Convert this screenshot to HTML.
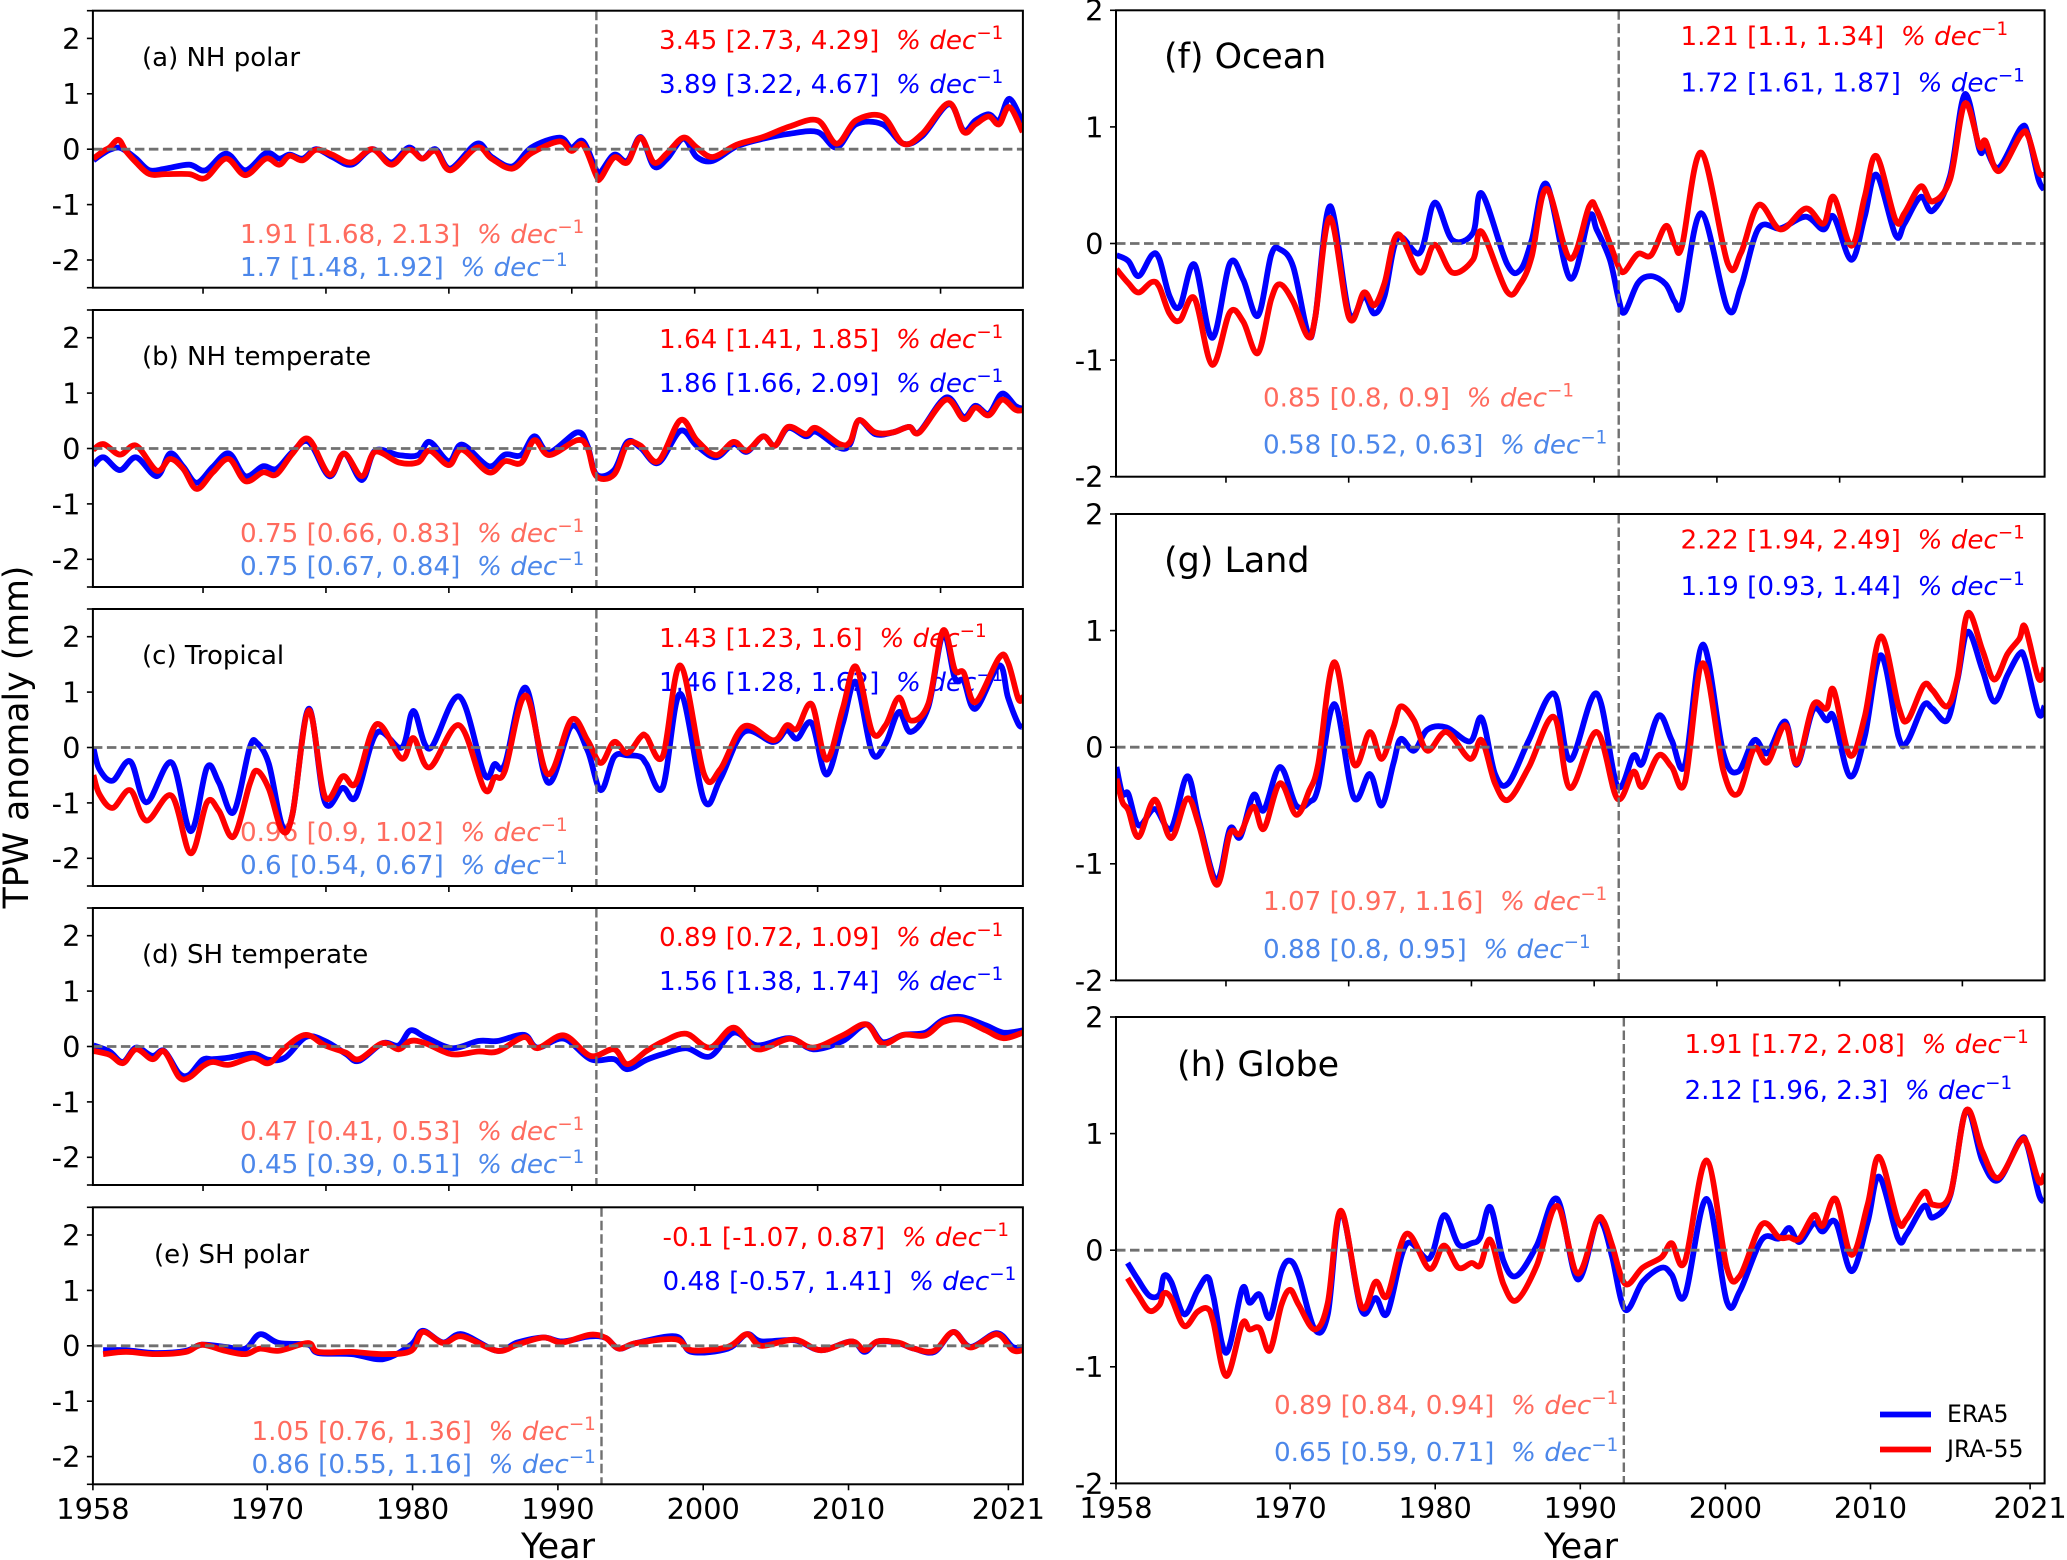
<!DOCTYPE html>
<html lang="en">
<head>
<meta charset="utf-8">
<title>TPW anomaly time series</title>
<style>
html,body{margin:0;padding:0;background:#fff;}
svg{display:block;font-family:"DejaVu Sans","Liberation Sans",sans-serif;}
.ann{font-size:26.2px;}
.sm{font-size:26px;fill:#000;}
.lg{font-size:34.9px;fill:#000;}
.r{fill:#ff0000;}.b{fill:#0000ff;}.s{fill:#ff6b5e;}.c{fill:#4c87ea;}
.m{font-style:italic;}
.u{font-style:normal;font-size:18.3px;}
</style>
</head>
<body>
<svg id="figure" xmlns="http://www.w3.org/2000/svg" width="2067" height="1560" viewBox="0 0 2067 1560">
<rect width="2067" height="1560" fill="#fff"/>

<text transform="translate(28,737) rotate(-90)" text-anchor="middle" font-size="34.7">TPW anomaly (mm)</text>
<text x="558" y="1558" text-anchor="middle" font-size="35">Year</text>
<text x="1581" y="1558" text-anchor="middle" font-size="35">Year</text>

<text class="sm" x="142" y="66">(a) NH polar</text>
<text class="ann r" x="659" y="49">3.45 [2.73, 4.29]&#160;&#160;<tspan class="m">% dec</tspan><tspan class="u" dy="-10">−1</tspan></text>
<text class="ann b" x="659" y="93">3.89 [3.22, 4.67]&#160;&#160;<tspan class="m">% dec</tspan><tspan class="u" dy="-10">−1</tspan></text>
<text class="ann s" x="240" y="243">1.91 [1.68, 2.13]&#160;&#160;<tspan class="m">% dec</tspan><tspan class="u" dy="-10">−1</tspan></text>
<text class="ann c" x="240" y="276">1.7 [1.48, 1.92]&#160;&#160;<tspan class="m">% dec</tspan><tspan class="u" dy="-10">−1</tspan></text>

<text class="sm" x="142" y="365">(b) NH temperate</text>
<text class="ann r" x="659" y="348">1.64 [1.41, 1.85]&#160;&#160;<tspan class="m">% dec</tspan><tspan class="u" dy="-10">−1</tspan></text>
<text class="ann b" x="659" y="392">1.86 [1.66, 2.09]&#160;&#160;<tspan class="m">% dec</tspan><tspan class="u" dy="-10">−1</tspan></text>
<text class="ann s" x="240" y="542">0.75 [0.66, 0.83]&#160;&#160;<tspan class="m">% dec</tspan><tspan class="u" dy="-10">−1</tspan></text>
<text class="ann c" x="240" y="575">0.75 [0.67, 0.84]&#160;&#160;<tspan class="m">% dec</tspan><tspan class="u" dy="-10">−1</tspan></text>

<text class="sm" x="142" y="664">(c) Tropical</text>
<text class="ann r" x="659" y="647">1.43 [1.23, 1.6]&#160;&#160;<tspan class="m">% dec</tspan><tspan class="u" dy="-10">−1</tspan></text>
<text class="ann b" x="659" y="691">1.46 [1.28, 1.62]&#160;&#160;<tspan class="m">% dec</tspan><tspan class="u" dy="-10">−1</tspan></text>
<text class="ann s" x="240" y="841">0.96 [0.9, 1.02]&#160;&#160;<tspan class="m">% dec</tspan><tspan class="u" dy="-10">−1</tspan></text>
<text class="ann c" x="240" y="874">0.6 [0.54, 0.67]&#160;&#160;<tspan class="m">% dec</tspan><tspan class="u" dy="-10">−1</tspan></text>

<text class="sm" x="142" y="963">(d) SH temperate</text>
<text class="ann r" x="659" y="946">0.89 [0.72, 1.09]&#160;&#160;<tspan class="m">% dec</tspan><tspan class="u" dy="-10">−1</tspan></text>
<text class="ann b" x="659" y="990">1.56 [1.38, 1.74]&#160;&#160;<tspan class="m">% dec</tspan><tspan class="u" dy="-10">−1</tspan></text>
<text class="ann s" x="240" y="1140">0.47 [0.41, 0.53]&#160;&#160;<tspan class="m">% dec</tspan><tspan class="u" dy="-10">−1</tspan></text>
<text class="ann c" x="240" y="1173">0.45 [0.39, 0.51]&#160;&#160;<tspan class="m">% dec</tspan><tspan class="u" dy="-10">−1</tspan></text>

<text class="sm" x="154" y="1263">(e) SH polar</text>
<text class="ann r" x="662.5" y="1246">-0.1 [-1.07, 0.87]&#160;&#160;<tspan class="m">% dec</tspan><tspan class="u" dy="-10">−1</tspan></text>
<text class="ann b" x="662.5" y="1290">0.48 [-0.57, 1.41]&#160;&#160;<tspan class="m">% dec</tspan><tspan class="u" dy="-10">−1</tspan></text>
<text class="ann s" x="251.5" y="1440">1.05 [0.76, 1.36]&#160;&#160;<tspan class="m">% dec</tspan><tspan class="u" dy="-10">−1</tspan></text>
<text class="ann c" x="251.5" y="1473">0.86 [0.55, 1.16]&#160;&#160;<tspan class="m">% dec</tspan><tspan class="u" dy="-10">−1</tspan></text>

<text class="lg" x="1164" y="68">(f) Ocean</text>
<text class="ann r" x="1680.5" y="45">1.21 [1.1, 1.34]&#160;&#160;<tspan class="m">% dec</tspan><tspan class="u" dy="-10">−1</tspan></text>
<text class="ann b" x="1680.5" y="91.5">1.72 [1.61, 1.87]&#160;&#160;<tspan class="m">% dec</tspan><tspan class="u" dy="-10">−1</tspan></text>
<text class="ann s" x="1263" y="406.5">0.85 [0.8, 0.9]&#160;&#160;<tspan class="m">% dec</tspan><tspan class="u" dy="-10">−1</tspan></text>
<text class="ann c" x="1263" y="453.5">0.58 [0.52, 0.63]&#160;&#160;<tspan class="m">% dec</tspan><tspan class="u" dy="-10">−1</tspan></text>

<text class="lg" x="1164" y="572">(g) Land</text>
<text class="ann r" x="1680.5" y="548.5">2.22 [1.94, 2.49]&#160;&#160;<tspan class="m">% dec</tspan><tspan class="u" dy="-10">−1</tspan></text>
<text class="ann b" x="1680.5" y="595">1.19 [0.93, 1.44]&#160;&#160;<tspan class="m">% dec</tspan><tspan class="u" dy="-10">−1</tspan></text>
<text class="ann s" x="1263" y="910">1.07 [0.97, 1.16]&#160;&#160;<tspan class="m">% dec</tspan><tspan class="u" dy="-10">−1</tspan></text>
<text class="ann c" x="1263" y="958">0.88 [0.8, 0.95]&#160;&#160;<tspan class="m">% dec</tspan><tspan class="u" dy="-10">−1</tspan></text>

<text class="lg" x="1177" y="1076">(h) Globe</text>
<text class="ann r" x="1684.5" y="1053">1.91 [1.72, 2.08]&#160;&#160;<tspan class="m">% dec</tspan><tspan class="u" dy="-10">−1</tspan></text>
<text class="ann b" x="1684.5" y="1099">2.12 [1.96, 2.3]&#160;&#160;<tspan class="m">% dec</tspan><tspan class="u" dy="-10">−1</tspan></text>
<text class="ann s" x="1274" y="1414">0.89 [0.84, 0.94]&#160;&#160;<tspan class="m">% dec</tspan><tspan class="u" dy="-10">−1</tspan></text>
<text class="ann c" x="1274" y="1461">0.65 [0.59, 0.71]&#160;&#160;<tspan class="m">% dec</tspan><tspan class="u" dy="-10">−1</tspan></text>

<g id="plots"></g>

<g>
<line x1="1880" x2="1931" y1="1414.5" y2="1414.5" stroke="#0000ff" stroke-width="5.8"/>
<text x="1947" y="1422" font-size="23.6">ERA5</text>
<line x1="1880" x2="1931" y1="1449.5" y2="1449.5" stroke="#ff0000" stroke-width="5.8"/>
<text x="1947" y="1457" font-size="23.6">JRA-55</text>
</g>
</svg>

<script>
// ---------- chart data ----------
const panelAYears=[1958.9,1959.6,1960.0,1960.6,1961.1,1961.8,1962.7,1963.8,1965.4,1966.5,1967.9,1969.2,1970.6,1971.5,1972.2,1973.1,1974.0,1975.1,1976.4,1977.8,1979.1,1980.3,1981.2,1982.1,1983.1,1984.9,1985.9,1987.3,1988.6,1990.5,1991.3,1992.1,1993.0,1993.3,1994.2,1995.1,1996.0,1996.9,1997.8,1998.9,1999.8,2000.9,2002.5,2004.3,2006.1,2008.0,2009.3,2010.6,2012.4,2013.8,2015.1,2016.9,2017.9,2018.7,2019.6,2020.3,2021.0,2021.9];
const panelAEra=[-.2,-.07,-.01,.03,-.03,-.17,-.38,-.35,-.28,-.38,-.08,-.38,-.07,-.17,-.1,-.17,0,-.14,-.28,0,-.24,.03,-.17,0,-.35,.1,-.14,-.31,.03,.21,.03,.14,-.38,-.41,-.1,-.21,.22,-.31,-.17,.19,-.14,-.21,.05,.19,.28,.31,.03,.45,.45,.1,.24,.81,.34,.52,.63,.52,.91,.48];
const panelAJra=[-.17,-.03,.03,.17,-.03,-.24,-.45,-.45,-.45,-.52,-.17,-.47,-.17,-.28,-.12,-.2,-.01,-.1,-.24,0,-.28,-.01,-.17,-.03,-.38,.03,-.17,-.35,-.07,.14,-.03,.08,-.48,-.52,-.15,-.24,.21,-.24,-.07,.21,.03,-.14,.08,.22,.41,.52,.1,.52,.59,.1,.28,.83,.31,.45,.59,.45,.76,.31];

const panelBYears=[1958.9,1959.6,1960.7,1961.8,1963.2,1964.1,1965.0,1965.9,1967.0,1968.1,1969.2,1970.4,1971.3,1972.4,1973.5,1974.9,1975.9,1977.1,1978.0,1979.6,1980.9,1981.7,1983.0,1983.9,1985.7,1986.8,1987.9,1988.8,1989.8,1991.7,1992.4,1993.0,1994.2,1995.1,1996.0,1997.2,1998.7,1999.8,2001.1,2002.3,2003.2,2004.3,2005.1,2006.0,2007.2,2007.9,2009.5,2010.2,2010.8,2011.9,2013.1,2014.2,2014.9,2016.7,2017.9,2018.7,2019.6,2020.5,2021.4,2021.9];
const panelBEra=[-.3,-.16,-.39,-.16,-.5,-.09,-.33,-.62,-.33,-.09,-.5,-.32,-.37,-.06,.12,-.5,-.09,-.57,-.04,-.12,-.12,.12,-.23,.07,-.32,-.11,-.12,.22,-.07,.29,.05,-.47,-.39,.12,.01,-.26,.32,.05,-.16,.08,-.06,.22,.05,.37,.22,.3,.01,.08,.51,.26,.29,.39,.3,.92,.57,.77,.63,.99,.77,.72];
const panelBJra=[-.02,.08,-.11,.05,-.4,-.19,-.37,-.73,-.43,-.19,-.59,-.43,-.47,-.09,.17,-.47,-.09,-.5,-.06,-.25,-.25,-.04,-.3,-.02,-.43,-.23,-.26,.15,-.12,.15,.01,-.5,-.47,.08,.05,-.23,.51,.15,-.12,.12,-.04,.22,.05,.39,.26,.37,.08,.12,.51,.29,.29,.39,.29,.88,.53,.74,.6,.88,.7,.69];

const panelCYears=[1958.9,1959.3,1960.2,1961.4,1962.5,1964.2,1965.5,1966.6,1967.4,1968.4,1969.5,1970.0,1970.8,1971.7,1972.4,1973.5,1974.6,1975.8,1976.7,1978.1,1979.8,1980.6,1981.7,1983.7,1985.4,1986.1,1986.8,1988.2,1989.7,1991.3,1992.4,1993.3,1994.2,1995.1,1996.0,1996.4,1997.5,1998.7,2000.3,2001.4,2003.0,2005.0,2005.9,2006.6,2007.6,2008.6,2009.7,2010.6,2011.7,2012.6,2013.5,2014.3,2015.5,2016.5,2017.3,2017.9,2018.7,2020.3,2020.9,2021.6,2021.9];
const panelCEra=[0,-.39,-.6,-.25,-.99,-.27,-1.51,-.36,-.63,-1.17,0,.08,-.3,-1.41,-1.2,.7,-.99,-.73,-.89,.26,0,.66,-.02,.92,-.48,-.3,-.3,1.08,-.63,.38,-.05,-.77,-.17,-.14,-.17,-.3,-.72,.97,-.95,-.57,.28,.1,.31,.16,.44,-.49,.43,1.18,-.1,.07,.64,.28,.73,2.05,1.25,1.2,.7,1.48,.91,.43,.38];
const panelCJra=[-.5,-.84,-1.09,-.77,-1.32,-.87,-1.91,-.99,-1.14,-1.61,-.66,-.42,-.75,-1.5,-1.2,.67,-.89,-.52,-.64,.42,-.2,.17,-.36,.4,-.75,-.54,-.42,.94,-.48,.5,.13,-.28,.1,-.1,.19,.2,-.16,1.48,-.48,-.39,.38,.13,.4,.34,.78,-.22,.7,1.46,.28,.4,.9,.49,.79,2.11,1.4,1.35,.82,1.62,1.54,.88,.91];

const panelDYears=[1958.9,1960.0,1960.9,1961.8,1962.9,1963.7,1964.7,1965.4,1966.3,1967.0,1968.1,1969.7,1970.8,1971.9,1973.3,1974.6,1976.0,1976.9,1978.5,1979.6,1980.4,1981.4,1983.2,1985.0,1986.3,1988.1,1989.0,1990.8,1992.6,1994.2,1995.1,1996.4,1997.6,1999.1,2000.7,2002.3,2003.9,2006.1,2007.7,2009.7,2011.3,2012.4,2013.8,2015.3,2016.5,2017.8,2019.4,2020.6,2021.9];
const panelDEra=[.02,-.09,-.28,-.02,-.17,-.08,-.48,-.51,-.24,-.23,-.2,-.13,-.24,-.2,.17,.1,-.13,-.26,.06,.02,.29,.17,-.03,.1,.1,.21,-.02,.14,-.23,-.23,-.41,-.24,-.13,-.03,-.18,.25,.02,.15,-.05,.1,.4,.08,.21,.25,.48,.53,.38,.25,.29];
const panelDJra=[-.08,-.15,-.3,-.05,-.23,-.09,-.55,-.56,-.36,-.28,-.33,-.2,-.3,-.02,.21,.02,-.11,-.23,.06,-.05,.1,.06,-.14,-.09,-.09,.17,-.03,.2,-.17,-.05,-.32,-.08,.1,.23,-.02,.34,-.05,.14,-.02,.2,.4,.05,.21,.2,.44,.48,.29,.15,.25];

const panelEYears=[1958.7,1960.3,1962.3,1964.4,1965.5,1967.1,1968.5,1969.5,1970.8,1972.8,1973.5,1975.8,1978.0,1979.9,1980.7,1982.1,1983.4,1985.8,1987.2,1989.0,1990.3,1992.2,1993.3,1994.2,1995.4,1998.1,1999.2,2001.7,2003.0,2004.0,2006.3,2008.1,2010.2,2011.1,2012.0,2013.4,2014.5,2015.9,2017.2,2018.4,2020.2,2021.3,2022.0];
const panelEEra=[-.08,-.08,-.13,-.09,.02,-.02,-.05,.21,.05,.02,-.13,-.15,-.24,.02,.27,.06,.21,-.09,.06,.15,.08,.17,.14,-.05,.05,.17,-.11,-.05,.21,.08,.1,-.08,.08,-.11,.08,.05,-.05,-.11,.25,-.02,.23,-.02,-.02];
const panelEJra=[-.15,-.11,-.15,-.11,.02,-.09,-.15,-.05,-.09,.05,-.11,-.11,-.15,-.09,.25,.05,.17,-.09,.02,.15,.06,.2,.14,-.05,.05,.12,-.08,-.02,.21,0,.11,-.08,.08,-.08,.08,.06,-.05,-.09,.25,-.03,.21,-.08,-.08];

const panelFYears=[1958.9,1959.7,1960.4,1961.3,1961.8,1962.5,1963.2,1964.2,1965.4,1966.6,1967.5,1968.5,1969.4,1970.0,1970.9,1971.9,1972.4,1973.4,1974.7,1975.7,1976.4,1977.1,1978.0,1979.5,1980.5,1981.7,1983.1,1983.7,1985.4,1986.3,1987.1,1988.1,1989.7,1991.0,1991.5,1992.4,1993.0,1993.4,1994.3,1995.2,1996.2,1996.8,1997.3,1998.6,2000.4,2001.3,2002.5,2004.0,2005.7,2006.9,2007.6,2008.8,2009.7,2010.5,2011.8,2012.4,2013.5,2014.3,2015.5,2016.5,2017.5,2017.9,2018.8,2020.3,2020.8,2021.5,2021.9];
const panelFEra=[-.1,-.15,-.28,-.1,-.13,-.45,-.54,-.18,-.81,-.17,-.31,-.62,-.1,-.05,-.2,-.77,-.63,.32,-.6,-.45,-.6,-.45,.05,-.08,.35,.03,.09,.43,-.17,-.23,.03,.51,-.3,.23,.12,-.14,-.48,-.59,-.34,-.28,-.35,-.5,-.51,.26,-.56,-.37,.13,.13,.23,.12,.23,-.14,.23,.59,.07,.17,.4,.28,.58,1.28,.8,.82,.65,.99,.93,.55,.46];
const panelFJra=[-.22,-.34,-.42,-.33,-.37,-.6,-.66,-.47,-1.04,-.59,-.67,-.94,-.48,-.35,-.5,-.8,-.63,.22,-.64,-.42,-.53,-.34,.08,-.25,-.01,-.25,-.14,.1,-.41,-.35,-.11,.47,-.13,.32,.29,0,-.2,-.24,-.09,-.1,.15,-.01,-.02,.78,-.17,-.08,.33,.12,.3,.17,.4,-.02,.4,.75,.2,.26,.49,.36,.55,1.2,.83,.88,.62,.93,.92,.62,.59];

const panelGYears=[1958.9,1959.3,1959.7,1960.4,1961.5,1962.6,1963.7,1964.5,1965.7,1966.6,1967.3,1968.2,1968.9,1970.0,1971.1,1972.0,1972.6,1973.7,1975.0,1976.1,1976.9,1977.7,1978.2,1979.1,1980.0,1981.3,1982.9,1983.7,1984.6,1985.5,1986.9,1988.6,1989.7,1991.5,1992.9,1994.0,1994.6,1995.7,1996.6,1997.5,1998.7,2000.1,2001.1,2002.2,2003.1,2004.3,2005.1,2006.2,2007.1,2007.6,2008.7,2009.7,2010.8,2012.0,2012.6,2013.7,2014.3,2015.3,2016.0,2016.7,2017.7,2018.5,2019.4,2020.2,2020.6,2021.5,2021.9];
const panelGEra=[-.17,-.4,-.4,-.67,-.53,-.7,-.25,-.63,-1.14,-.7,-.77,-.41,-.54,-.17,-.5,-.47,-.34,.37,-.43,-.23,-.5,-.14,.07,-.03,.15,.17,.05,.25,-.23,-.31,.06,.46,-.11,.46,-.33,-.07,-.14,.27,.06,-.15,.88,-.05,-.21,.06,-.05,.22,-.15,.32,.23,.26,-.25,.09,.79,.09,.05,.36,.33,.23,.58,.99,.66,.39,.62,.8,.75,.29,.35];
const panelGJra=[-.27,-.47,-.54,-.77,-.45,-.78,-.44,-.67,-1.18,-.74,-.74,-.51,-.7,-.31,-.58,-.37,-.14,.73,-.14,.13,-.1,.17,.35,.23,-.03,.13,-.1,.06,-.31,-.45,-.17,.26,-.35,.13,-.44,-.21,-.34,-.07,-.17,-.3,.72,-.2,-.4,-.01,-.13,.19,-.14,.36,.33,.49,-.07,.26,.95,.35,.23,.53,.49,.35,.6,1.15,.83,.58,.8,.93,1.03,.59,.68];

const panelHYears=[1958.8,1959.5,1960.3,1961.0,1961.3,1961.8,1962.7,1963.6,1964.3,1964.7,1965.6,1966.7,1967.2,1967.9,1968.6,1969.4,1970.0,1970.6,1971.7,1972.6,1973.5,1974.9,1975.9,1976.7,1978.0,1979.6,1980.6,1981.6,1982.5,1983.1,1983.8,1984.7,1985.6,1987.0,1988.4,1989.8,1991.1,1991.6,1992.2,1993.1,1994.3,1995.6,1996.3,1997.2,1998.7,2000.1,2001.0,2002.5,2003.7,2004.4,2005.1,2006.1,2006.7,2007.6,2008.7,2009.8,2010.6,2011.9,2012.5,2013.7,2014.3,2015.5,2016.6,2017.7,2018.8,2020.3,2020.8,2021.6,2022.0];
const panelHEra=[-.11,-.25,-.39,-.38,-.22,-.27,-.55,-.35,-.23,-.39,-.88,-.33,-.45,-.38,-.58,-.18,-.09,-.22,-.68,-.55,.33,-.51,-.41,-.54,.05,-.07,.3,.05,.06,.11,.37,-.09,-.22,.04,.44,-.25,.24,.21,-.06,-.51,-.27,-.15,-.21,-.39,.44,-.44,-.35,.09,.1,.19,.07,.23,.16,.24,-.18,.24,.63,.1,.14,.38,.28,.47,1.2,.77,.6,.94,.9,.48,.42];
const panelHJra=[-.24,-.38,-.52,-.47,-.37,-.41,-.65,-.53,-.5,-.61,-1.08,-.63,-.68,-.67,-.86,-.47,-.34,-.47,-.68,-.45,.34,-.48,-.27,-.39,.14,-.16,.04,-.15,-.11,-.13,.09,-.29,-.43,-.13,.38,-.2,.24,.25,.04,-.29,-.15,-.06,.06,-.1,.77,-.15,-.22,.22,.11,.11,.1,.3,.21,.44,-.04,.39,.8,.25,.27,.5,.39,.48,1.2,.85,.62,.93,.91,.59,.65];

const indexTicks=[100,200,300,400,500,600,700];
const yearTicks=[1958,1970,1980,1990,2000,2010,2021];
const leftYTicks=[-2.5,-2,-1,0,1,2,2.5];
const rightYTicks=[-2,-1,0,1,2];
const yTickLabels=["-2","-1","0","1","2"];
const breakYear=1993;

// ---------- layout ----------
const LC={left:92.9,width:930};
const RC={left:1116,width:928.6};
const plotPanels=[
 {id:'a',era:panelAEra,jra:panelAJra,years:panelAYears,top:10.7,height:277,col:LC,mode:'index',ymax:2.5},
 {id:'b',era:panelBEra,jra:panelBJra,years:panelBYears,top:310,height:277,col:LC,mode:'index',ymax:2.5},
 {id:'c',era:panelCEra,jra:panelCJra,years:panelCYears,top:609,height:277,col:LC,mode:'index',ymax:2.5},
 {id:'d',era:panelDEra,jra:panelDJra,years:panelDYears,top:908,height:277,col:LC,mode:'index',ymax:2.5},
 {id:'e',era:panelEEra,jra:panelEJra,years:panelEYears,top:1207.3,height:277,col:LC,mode:'year',ymax:2.5},
 {id:'f',era:panelFEra,jra:panelFJra,years:panelFYears,top:10.3,height:466.4,col:RC,mode:'index',ymax:2},
 {id:'g',era:panelGEra,jra:panelGJra,years:panelGYears,top:514,height:466.4,col:RC,mode:'index',ymax:2},
 {id:'h',era:panelHEra,jra:panelHJra,years:panelHYears,top:1017,height:466.4,col:RC,mode:'year',ymax:2}
];

const SVGNS='http://www.w3.org/2000/svg';
const layer=document.getElementById('plots');
const defs=document.createElementNS(SVGNS,'defs');
layer.appendChild(defs);

function smoothPath(pts){
  let d='M'+pts[0][0].toFixed(1)+' '+pts[0][1].toFixed(1);
  for(let i=0;i<pts.length-1;i++){
    const p0=pts[Math.max(0,i-1)],p1=pts[i],p2=pts[i+1],p3=pts[Math.min(pts.length-1,i+2)];
    const c1x=p1[0]+(p2[0]-p0[0])/6,c1y=p1[1]+(p2[1]-p0[1])/6;
    const c2x=p2[0]-(p3[0]-p1[0])/6,c2y=p2[1]-(p3[1]-p1[1])/6;
    d+='C'+c1x.toFixed(1)+' '+c1y.toFixed(1)+' '+c2x.toFixed(1)+' '+c2y.toFixed(1)+' '+p2[0].toFixed(1)+' '+p2[1].toFixed(1);
  }
  return d;
}

plotPanels.forEach(function(p){
  const left=p.col.left,width=p.col.width,right=left+width,bottom=p.top+p.height;
  const isIndex=p.mode==='index';
  const xFromIndex=function(i){return left+(i-10.4)/756.6*width;};
  const xFromYear=function(y){return isIndex?xFromIndex((y-1958)*12):left+(y-1958)/64*width;};
  const yScale=function(v){return p.top+(p.ymax-v)/(2*p.ymax)*p.height;};

  const group=document.createElementNS(SVGNS,'g');
  
  
  layer.appendChild(group);

  const clip=document.createElementNS(SVGNS,'clipPath');
  clip.setAttribute('id','clip-'+p.id);
  const clipRect=document.createElementNS(SVGNS,'rect');
  clipRect.setAttribute('x',left);
  clipRect.setAttribute('y',p.top);
  clipRect.setAttribute('width',width);
  clipRect.setAttribute('height',p.height);
  clip.appendChild(clipRect);
  defs.appendChild(clip);

  // series
  const eraPath=document.createElementNS(SVGNS,'path');
  
  
  eraPath.setAttribute('d',smoothPath(p.years.map(function(y,i){return [xFromYear(y),yScale(p.era[i])];})));
  eraPath.setAttribute('fill','none');
  eraPath.setAttribute('stroke','#0000ff');
  eraPath.setAttribute('stroke-width','5.8');
  eraPath.setAttribute('stroke-linejoin','round');
  eraPath.setAttribute('clip-path','url(#clip-'+p.id+')');
  group.appendChild(eraPath);

  const jraPath=document.createElementNS(SVGNS,'path');
  
  
  jraPath.setAttribute('d',smoothPath(p.years.map(function(y,i){return [xFromYear(y),yScale(p.jra[i])];})));
  jraPath.setAttribute('fill','none');
  jraPath.setAttribute('stroke','#ff0000');
  jraPath.setAttribute('stroke-width','5.8');
  jraPath.setAttribute('stroke-linejoin','round');
  jraPath.setAttribute('clip-path','url(#clip-'+p.id+')');
  group.appendChild(jraPath);

  // zero line
  const zero=document.createElementNS(SVGNS,'line');
  
  
  zero.setAttribute('x1',left);
  zero.setAttribute('x2',right);
  zero.setAttribute('y1',yScale(0));
  zero.setAttribute('y2',yScale(0));
  zero.setAttribute('stroke','#707070');
  zero.setAttribute('stroke-width','2.8');
  zero.setAttribute('stroke-dasharray','9.5 4.5');
  group.appendChild(zero);

  // break year line
  const breakLine=document.createElementNS(SVGNS,'line');
  
  
  breakLine.setAttribute('x1',xFromYear(breakYear));
  breakLine.setAttribute('x2',xFromYear(breakYear));
  breakLine.setAttribute('y1',p.top);
  breakLine.setAttribute('y2',bottom);
  breakLine.setAttribute('stroke','#707070');
  breakLine.setAttribute('stroke-width','2.4');
  breakLine.setAttribute('stroke-dasharray','9.5 4');
  group.appendChild(breakLine);

  // y ticks
  const yTicks=p.ymax===2.5?leftYTicks:rightYTicks;
  yTicks.forEach(function(v){
    const tick=document.createElementNS(SVGNS,'line');
    
    
    tick.setAttribute('x1',left-6);
    tick.setAttribute('x2',left);
    tick.setAttribute('y1',yScale(v));
    tick.setAttribute('y2',yScale(v));
    tick.setAttribute('stroke','#000');
    tick.setAttribute('stroke-width','1.6');
    group.appendChild(tick);
    const labelIndex=rightYTicks.indexOf(v);
    if(labelIndex>=0){
      const label=document.createElementNS(SVGNS,'text');
      
      
      label.setAttribute('x',left-12.5);
      label.setAttribute('y',yScale(v)+10.4);
      label.setAttribute('text-anchor','end');
      label.setAttribute('font-size','28.8');
      label.textContent=yTickLabels[labelIndex];
      group.appendChild(label);
    }
  });

  // x ticks
  if(isIndex){
    indexTicks.forEach(function(t){
      const tick=document.createElementNS(SVGNS,'line');
      
      
      tick.setAttribute('x1',xFromIndex(t));
      tick.setAttribute('x2',xFromIndex(t));
      tick.setAttribute('y1',bottom);
      tick.setAttribute('y2',bottom+6);
      tick.setAttribute('stroke','#000');
      tick.setAttribute('stroke-width','1.6');
      group.appendChild(tick);
    });
  } else {
    yearTicks.forEach(function(t){
      const tick=document.createElementNS(SVGNS,'line');
      
      
      tick.setAttribute('x1',xFromYear(t));
      tick.setAttribute('x2',xFromYear(t));
      tick.setAttribute('y1',bottom);
      tick.setAttribute('y2',bottom+6);
      tick.setAttribute('stroke','#000');
      tick.setAttribute('stroke-width','1.6');
      group.appendChild(tick);
      const label=document.createElementNS(SVGNS,'text');
      
      
      label.setAttribute('x',xFromYear(t));
      label.setAttribute('y',bottom+34.5);
      label.setAttribute('text-anchor','middle');
      label.setAttribute('font-size','28.8');
      label.textContent=String(t);
      group.appendChild(label);
    });
  }

  // frame
  const frame=document.createElementNS(SVGNS,'rect');
  
  
  frame.setAttribute('x',left);
  frame.setAttribute('y',p.top);
  frame.setAttribute('width',width);
  frame.setAttribute('height',p.height);
  frame.setAttribute('fill','none');
  frame.setAttribute('stroke','#000');
  frame.setAttribute('stroke-width','2');
  group.appendChild(frame);
});
</script>
</body>
</html>
